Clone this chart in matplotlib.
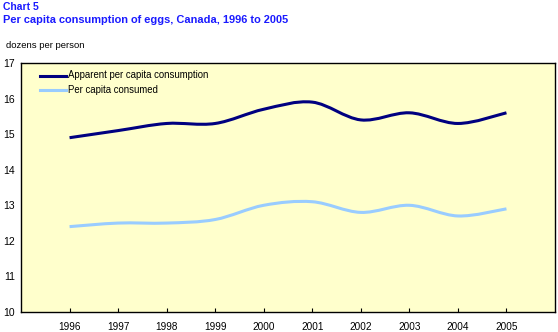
import matplotlib.pyplot as plt
import numpy as np
from matplotlib.path import Path
from matplotlib.patches import PathPatch

plt.rcParams['font.family'] = ['Liberation Sans', 'DejaVu Sans']

years = [1996, 1997, 1998, 1999, 2000, 2001, 2002, 2003, 2004, 2005]
apparent = [14.9, 15.1, 15.3, 15.3, 15.7, 15.9, 15.4, 15.6, 15.3, 15.6]
consumed = [12.4, 12.5, 12.5, 12.6, 13.0, 13.1, 12.8, 13.0, 12.7, 12.9]
yticks = [10, 11, 12, 13, 14, 15, 16, 17]


def smooth_path(xs, ys, k=1 / 6):
    # cubic bezier through every point (catmull-rom style tangents)
    xs = np.asarray(xs, float)
    ys = np.asarray(ys, float)
    n = len(xs)
    verts = [(xs[0], ys[0])]
    codes = [Path.MOVETO]
    for i in range(n - 1):
        p0 = max(i - 1, 0)
        p3 = min(i + 2, n - 1)
        c1 = (xs[i] + (xs[i + 1] - xs[p0]) * k, ys[i] + (ys[i + 1] - ys[p0]) * k)
        c2 = (xs[i + 1] - (xs[p3] - xs[i]) * k, ys[i + 1] - (ys[p3] - ys[i]) * k)
        verts += [c1, c2, (xs[i + 1], ys[i + 1])]
        codes += [Path.CURVE4] * 3
    return Path(verts, codes)


fig = plt.figure(figsize=(5.58, 3.32), dpi=100)
ax = fig.add_axes([21 / 558, 1 - 312 / 332, 534 / 558, 249 / 332])
ax.set_facecolor('#ffffcc')

dark = '#000080'
light = '#99ccff'
for ys, col in ((apparent, dark), (consumed, light)):
    ax.add_patch(PathPatch(smooth_path(years, ys), facecolor='none',
                           edgecolor=col, lw=2.2, capstyle='butt'))

ax.set_xlim(1995, 2006)
ax.set_ylim(10, 17)
ax.set_xticks(years)
ax.set_xticklabels([str(y) for y in years], fontsize=7.2)
ax.set_yticks(yticks)
ax.set_yticklabels([str(v) for v in yticks], fontsize=7.5)
ax.tick_params(axis='x', direction='in', length=3, width=0.8, pad=7.5)
ax.tick_params(axis='y', length=0, pad=4.3)
for s in ax.spines.values():
    s.set_linewidth(1.0)

# legend drawn by hand at the top left of the plot
for i, (lab, col) in enumerate((('Apparent per capita consumption', dark),
                                ('Per capita consumed', light))):
    y = 75.5 + i * 14.5
    fig.add_artist(plt.Line2D([40 / 558, 66 / 558], [1 - y / 332] * 2,
                              color=col, lw=2.2))
    fig.text(67.5 / 558, 1 - y / 332, lab, fontsize=6.9, va='center')

fig.text(3 / 558, 1 - 7 / 332, 'Chart 5', color='#1a1aff', fontsize=7.5,
         fontweight='bold', va='center')
fig.text(3 / 558, 1 - 20 / 332,
         'Per capita consumption of eggs, Canada, 1996 to 2005',
         color='#1a1aff', fontsize=7.9, fontweight='bold', va='center')
fig.text(5.5 / 558, 1 - 46 / 332, 'dozens per person', fontsize=6.8, va='center')

fig.savefig('out.png', dpi=100)
